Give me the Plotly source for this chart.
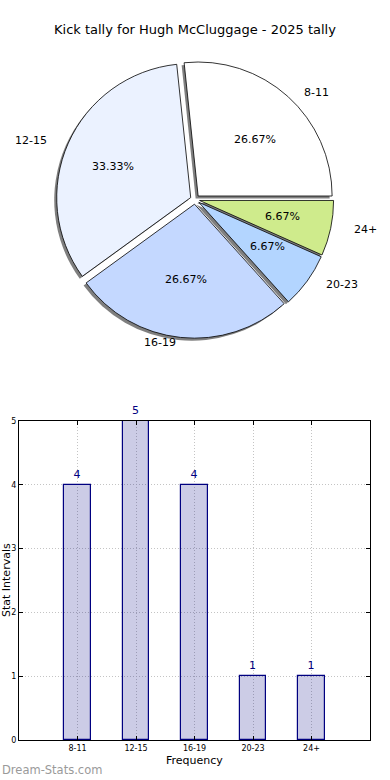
import math
import plotly.graph_objects as go

categories = ["8-11", "12-15", "16-19", "20-23", "24+"]
counts = [4, 5, 4, 1, 1]
pie_colors = ["#FFFFFF", "#EBF2FF", "#C4D8FF", "#B3D5FF", "#CFEB8C"]
title_text = "Kick tally for Hugh McCluggage - 2025 tally"
y_ticks = [0, 1, 2, 3, 4, 5]

W, H = 390, 780
FONT = "DejaVu Sans"

def X(px):
    return px / W

def Y(py):
    return (H - py) / H

pull = [0.035] * len(categories)
total = sum(counts)
first_slice_deg = 360 * counts[0] / total
rot = 90 - first_slice_deg  # matplotlib startangle=0, counterclockwise

# pie geometry (screen pixels)
cx, cy, r = 195, 199.5, 134
rx, ry = 141, 127  # text placement radii (reference pie is slightly elliptical)
half = r * (1 + max(pull))

def dom(dx=0, dy=0):
    return dict(x=[X(cx + dx - half), X(cx + dx + half)],
                y=[Y(cy + dy + half), Y(cy + dy - half)])

fig = go.Figure()

common = dict(labels=categories, values=counts, sort=False,
              direction="counterclockwise", rotation=rot, pull=pull,
              showlegend=False, textinfo="none")

# shadow
fig.add_trace(go.Pie(
    **common, domain=dom(-2.5, 2.5),
    marker=dict(colors=["rgba(0,0,0,0.5)"] * 5, line=dict(width=0)),
    hoverinfo="skip",
))
# main pie
fig.add_trace(go.Pie(
    **common, domain=dom(),
    marker=dict(colors=pie_colors, line=dict(color="black", width=0.8)),
))

annotations = []
# pie labels and percentages (matplotlib-style: labeldistance 1.1, pctdistance 0.6)
start = 0.0
for cat, val, p in zip(categories, counts, pull):
    frac = val / total
    mid = math.radians(360 * (start + frac / 2))
    start += frac
    c, s = math.cos(mid), math.sin(mid)
    ox, oy = p * rx * c, p * ry * s
    lx = cx + ox + 1.1 * rx * c
    ly = cy - oy - 1.1 * ry * s
    annotations.append(dict(
        text=cat, xref="paper", yref="paper", x=X(lx), y=Y(ly),
        xanchor="left" if c > 0 else "right", yanchor="middle", showarrow=False,
        font=dict(family=FONT, size=11, color="black")))
    tx = cx + ox + 0.6 * rx * c
    ty = cy - oy - 0.6 * ry * s
    annotations.append(dict(
        text=f"{100 * frac:.2f}%", xref="paper", yref="paper", x=X(tx), y=Y(ty),
        xanchor="center", yanchor="middle", showarrow=False,
        font=dict(family=FONT, size=11, color="black")))

# bar chart
fig.add_trace(go.Bar(
    x=list(range(len(categories))), y=counts, width=0.45,
    marker=dict(color="rgba(0,0,128,0.2)", line=dict(color="#000080", width=1.2)),
    text=[str(c) for c in counts], textposition="outside",
    textfont=dict(family=FONT, size=11, color="#000080"),
    cliponaxis=False, showlegend=False,
))

grid = dict(showgrid=True, gridcolor="#C4C4C4", griddash="1px,2px", gridwidth=1)

annotations += [
    dict(text=title_text, xref="paper", yref="paper", x=X(195), y=Y(30),
         xanchor="center", yanchor="middle", showarrow=False,
         font=dict(family=FONT, size=13, color="black")),
    dict(text="Frequency", xref="paper", yref="paper", x=X(194.5), y=Y(760),
         xanchor="center", yanchor="middle", showarrow=False,
         font=dict(family=FONT, size=11, color="black")),
    dict(text="Stat Intervals", xref="paper", yref="paper", x=X(6), y=Y(580),
         xanchor="center", yanchor="middle", showarrow=False, textangle=-90,
         font=dict(family=FONT, size=11, color="black")),
    dict(text="Dream-Stats.com", xref="paper", yref="paper", x=X(0), y=Y(770),
         xanchor="left", yanchor="middle", showarrow=False,
         font=dict(family=FONT, size=11.5, color="#9A9A9A")),
]

fig.update_layout(
    width=W, height=H,
    margin=dict(l=0, r=0, t=0, b=0, autoexpand=False),
    paper_bgcolor="white", plot_bgcolor="white",
    font=dict(family=FONT, color="black"),
    xaxis=dict(
        domain=[X(19), X(370)], range=[-1, 5], automargin=False,
        tickmode="array", tickvals=list(range(len(categories))), ticktext=categories,
        tickfont=dict(size=8, family=FONT), ticks="inside", ticklen=4, tickcolor="black",
        showline=True, linecolor="black", linewidth=1, mirror="allticks",
        zeroline=False, fixedrange=True, **grid,
    ),
    yaxis=dict(
        domain=[Y(740), Y(421)], range=[0, 5], automargin=False,
        tickmode="array", tickvals=y_ticks,
        tickfont=dict(size=8, family=FONT), ticks="inside", ticklen=4, tickcolor="black",
        showline=True, linecolor="black", linewidth=1, mirror="allticks",
        zeroline=False, fixedrange=True, **grid,
    ),
    annotations=annotations,
    bargap=0,
)

fig.write_html(
    "out.html",
    config={"displayModeBar": False},
    post_script="document.body.style.margin='0';document.body.style.overflow='hidden';",
)
